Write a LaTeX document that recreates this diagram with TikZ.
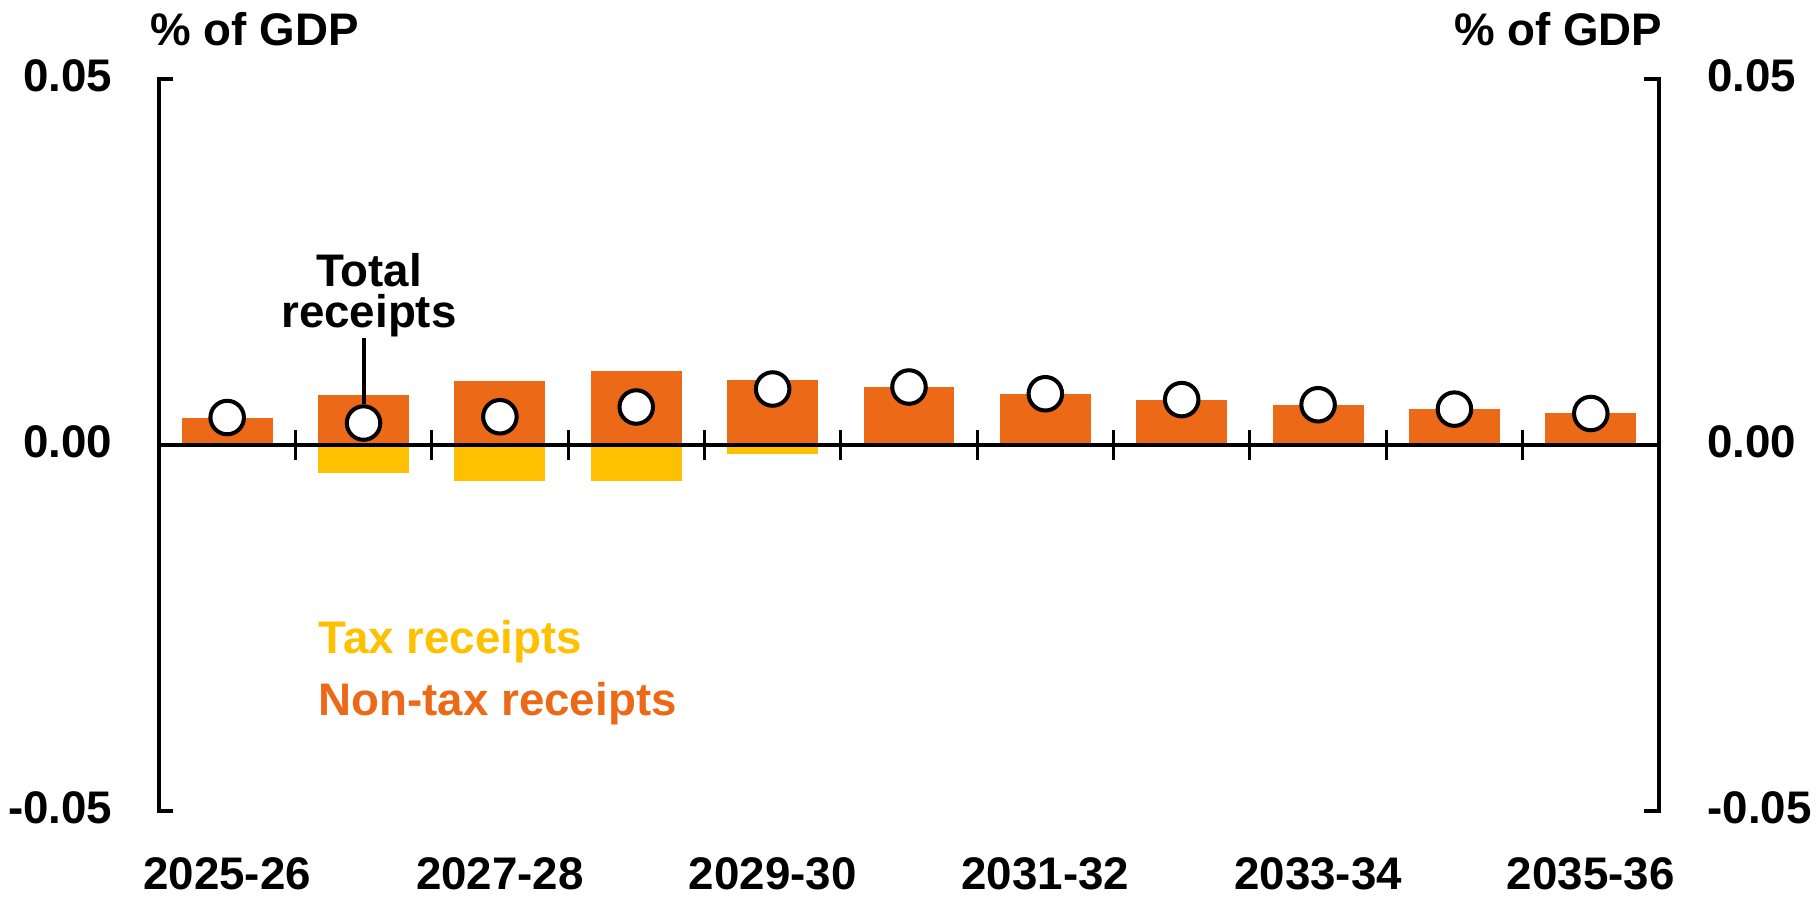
\documentclass[tikz,border=0pt]{standalone}
\usepackage{fontspec}
\setmainfont{Liberation Sans}
\usepackage{xcolor}
\usepackage{tikz}
\usetikzlibrary{positioning,calc}
\definecolor{nontaxorange}{HTML}{EC6A17}
\definecolor{taxyellow}{HTML}{FFC000}

\begin{document}
\begin{tikzpicture}[
    x=1.3636cm, y=0.732cm,
    nontax/.style={fill=nontaxorange},
    tax/.style={fill=taxyellow},
    total/.style={circle, draw=black, fill=white, line width=1.15pt, minimum size=0.335cm, inner sep=0pt},
    axisline/.style={line width=0.9pt, black},
    lbl/.style={font=\fontsize{13}{11.7}\selectfont\bfseries, inner sep=0pt},
]
    \useasboundingbox (-1.59cm,-4.65cm) rectangle (16.60cm,4.45cm);

    % bars
    \fill[nontax] (0.1667,0) rectangle (0.8333,0.369);
    \fill[nontax] (1.1667,0) rectangle (1.8333,0.683);
    \fill[tax] (1.1667,0) rectangle (1.8333,-0.383);
    \fill[nontax] (2.1667,0) rectangle (2.8333,0.874);
    \fill[tax] (2.1667,0) rectangle (2.8333,-0.488);
    \fill[nontax] (3.1667,0) rectangle (3.8333,1.011);
    \fill[tax] (3.1667,0) rectangle (3.8333,-0.492);
    \fill[nontax] (4.1667,0) rectangle (4.8333,0.888);
    \fill[tax] (4.1667,0) rectangle (4.8333,-0.123);
    \fill[nontax] (5.1667,0) rectangle (5.8333,0.792);
    \fill[nontax] (6.1667,0) rectangle (6.8333,0.693);
    \fill[nontax] (7.1667,0) rectangle (7.8333,0.615);
    \fill[nontax] (8.1667,0) rectangle (8.8333,0.546);
    \fill[nontax] (9.1667,0) rectangle (9.8333,0.492);
    \fill[nontax] (10.1667,0) rectangle (10.8333,0.433);

    % axes
    \draw[axisline] (0.103,5) -- (0,5) -- (0,-5) -- (0.103,-5);
    \draw[axisline] (10.89,5) -- (11,5) -- (11,-5) -- (10.89,-5);
    \draw[line width=1.1pt] (0,0) -- (11,0);
    \foreach \i in {1,...,10}
        \draw[axisline] (\i,-0.2) -- (\i,0.2);

    % totals
    \node[total] (t1) at (0.5,0.375) {};
    \node[total] (t2) at (1.5,0.300) {};
    \node[total] (t3) at (2.5,0.386) {};
    \node[total] (t4) at (3.5,0.519) {};
    \node[total] (t5) at (4.5,0.765) {};
    \node[total] (t6) at (5.5,0.792) {};
    \node[total] (t7) at (6.5,0.700) {};
    \node[total] (t8) at (7.5,0.620) {};
    \node[total] (t9) at (8.5,0.550) {};
    \node[total] (t10) at (9.5,0.490) {};
    \node[total] (t11) at (10.5,0.430) {};

    \node[lbl, align=center, anchor=south] (totlbl) at (1.540,1.462) {Total\\receipts};
    \draw[line width=1.15pt] (t2.north) -- (t2.north |- totlbl.south);

    % axis labels
    \node[lbl, anchor=base west] (unitl) at (-0.066,5.464) {\% of GDP};
    \node[lbl, anchor=base east] (unitr) at (11.03,5.464) {\% of GDP};
    \node[lbl, anchor=base east] (l005) at (-0.337,4.83) {0.05};
    \node[lbl, anchor=base east] (l000) at (-0.337,-0.17) {0.00};
    \node[lbl, anchor=base east] (lm005) at (-0.337,-5.17) {-0.05};
    \node[lbl, anchor=base west] (r005) at (11.35,4.83) {0.05};
    \node[lbl, anchor=base west] (r000) at (11.35,-0.17) {0.00};
    \node[lbl, anchor=base west] (rm005) at (11.35,-5.17) {-0.05};

    \node[lbl, anchor=base] (y2025) at (0.5,-6.066) {2025-26};
    \node[lbl, anchor=base] (y2027) at (2.5,-6.066) {2027-28};
    \node[lbl, anchor=base] (y2029) at (4.5,-6.066) {2029-30};
    \node[lbl, anchor=base] (y2031) at (6.5,-6.066) {2031-32};
    \node[lbl, anchor=base] (y2033) at (8.5,-6.066) {2033-34};
    \node[lbl, anchor=base] (y2035) at (10.5,-6.066) {2035-36};

    % legend
    \node[lbl, anchor=base west, text=taxyellow] (legtax) at (1.166,-2.842) {Tax receipts};
    \node[lbl, anchor=base west, text=nontaxorange] (legnontax) at (1.166,-3.689) {Non-tax receipts};
\end{tikzpicture}
\end{document}
